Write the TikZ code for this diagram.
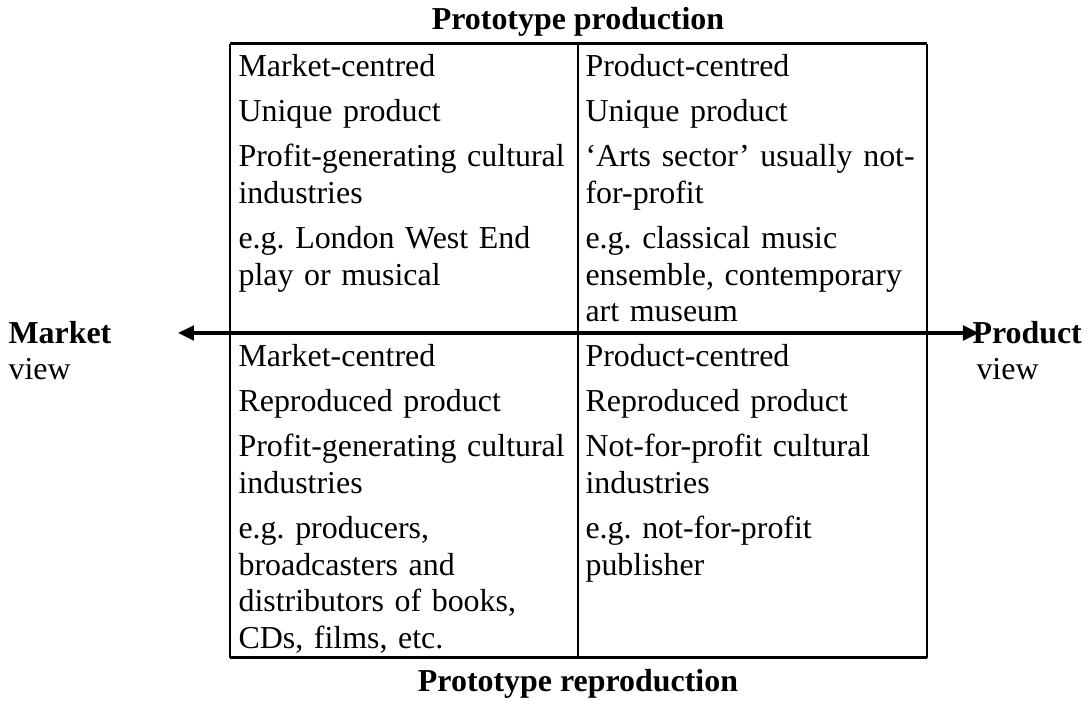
\documentclass[tikz,border=0pt]{standalone}
\usepackage{fontspec}
\setmainfont{Liberation Serif}
\usetikzlibrary{arrows.meta, positioning}
\frenchspacing

\begin{document}
\begin{tikzpicture}[
  cell/.style={anchor=base west, inner sep=0pt, text width=6cm, align=left,
               font=\fontsize{12}{13.8}\selectfont},
  ttl/.style={anchor=base, inner sep=0pt, font=\fontsize{12}{13.8}\selectfont\bfseries},
  side/.style={anchor=base west, inner sep=0pt, font=\fontsize{12}{13.8}\selectfont},
  rule/.style={line width=1.1pt},
  arr/.style={{Triangle[length=6pt,width=5.5pt]}-{Triangle[length=6pt,width=5.5pt]}, line width=1.2pt}
]
\useasboundingbox (0,0) rectangle (14.363,-9.262);

% table frame
\coordinate (nw) at (3.039,-0.581);
\coordinate (nm) at (7.637,-0.581);
\coordinate (ne) at (12.248,-0.581);
\coordinate (sw) at (3.039,-8.694);
\coordinate (sm) at (7.637,-8.694);
\coordinate (se) at (12.248,-8.694);
\draw[line width=0.75pt] (nw) -- (sw) (nm) -- (sm) (ne) -- (se);
\draw[rule] (nw) -- (ne);
\draw[rule] (sw) -- (se);

% headings
\node[ttl] (prod)  at (7.637,-0.396) {Prototype production};
\node[ttl] (repro) at (7.637,-9.140) {Prototype reproduction};

% quadrants
\node[cell] (mktproto) at (3.145,-1.017) {Market-centred\\[3.1pt]
  Unique product\\[3.1pt]
  Profit-generating cultural\\industries\\[3.1pt]
  e.g. London West End\\play or musical};
\node[cell] (prdproto) at (7.730,-1.017) {Product-centred\\[3.1pt]
  Unique product\\[3.1pt]
  ‘Arts sector’ usually not-\\for-profit\\[3.1pt]
  e.g. classical music\\ensemble, contemporary\\art museum};
\node[cell] (mktrepro) at (3.145,-4.849) {Market-centred\\[3.1pt]
  Reproduced product\\[3.1pt]
  Profit-generating cultural\\industries\\[3.1pt]
  e.g. producers,\\broadcasters and\\distributors of books,\\CDs, films, etc.};
\node[cell] (prdrepro) at (7.730,-4.849) {Product-centred\\[3.1pt]
  Reproduced product\\[3.1pt]
  Not-for-profit cultural\\industries\\[3.1pt]
  e.g. not-for-profit\\publisher};

% axis
\node[side, font=\fontsize{12}{13.8}\selectfont\bfseries] (mkt) at (0.106,-4.545) {Market};
\node[side] (mktview) at (0.106,-5.020) {view};
\node[side, font=\fontsize{12}{13.8}\selectfont\bfseries] (prd) at (12.843,-4.545) {Product};
\node[side] (prdview) at (12.896,-5.020) {view};
\coordinate (aw) at (2.352,-4.400);
\coordinate (ae) at (12.935,-4.400);
\draw[arr] (aw) -- (ae);
\end{tikzpicture}
\end{document}
